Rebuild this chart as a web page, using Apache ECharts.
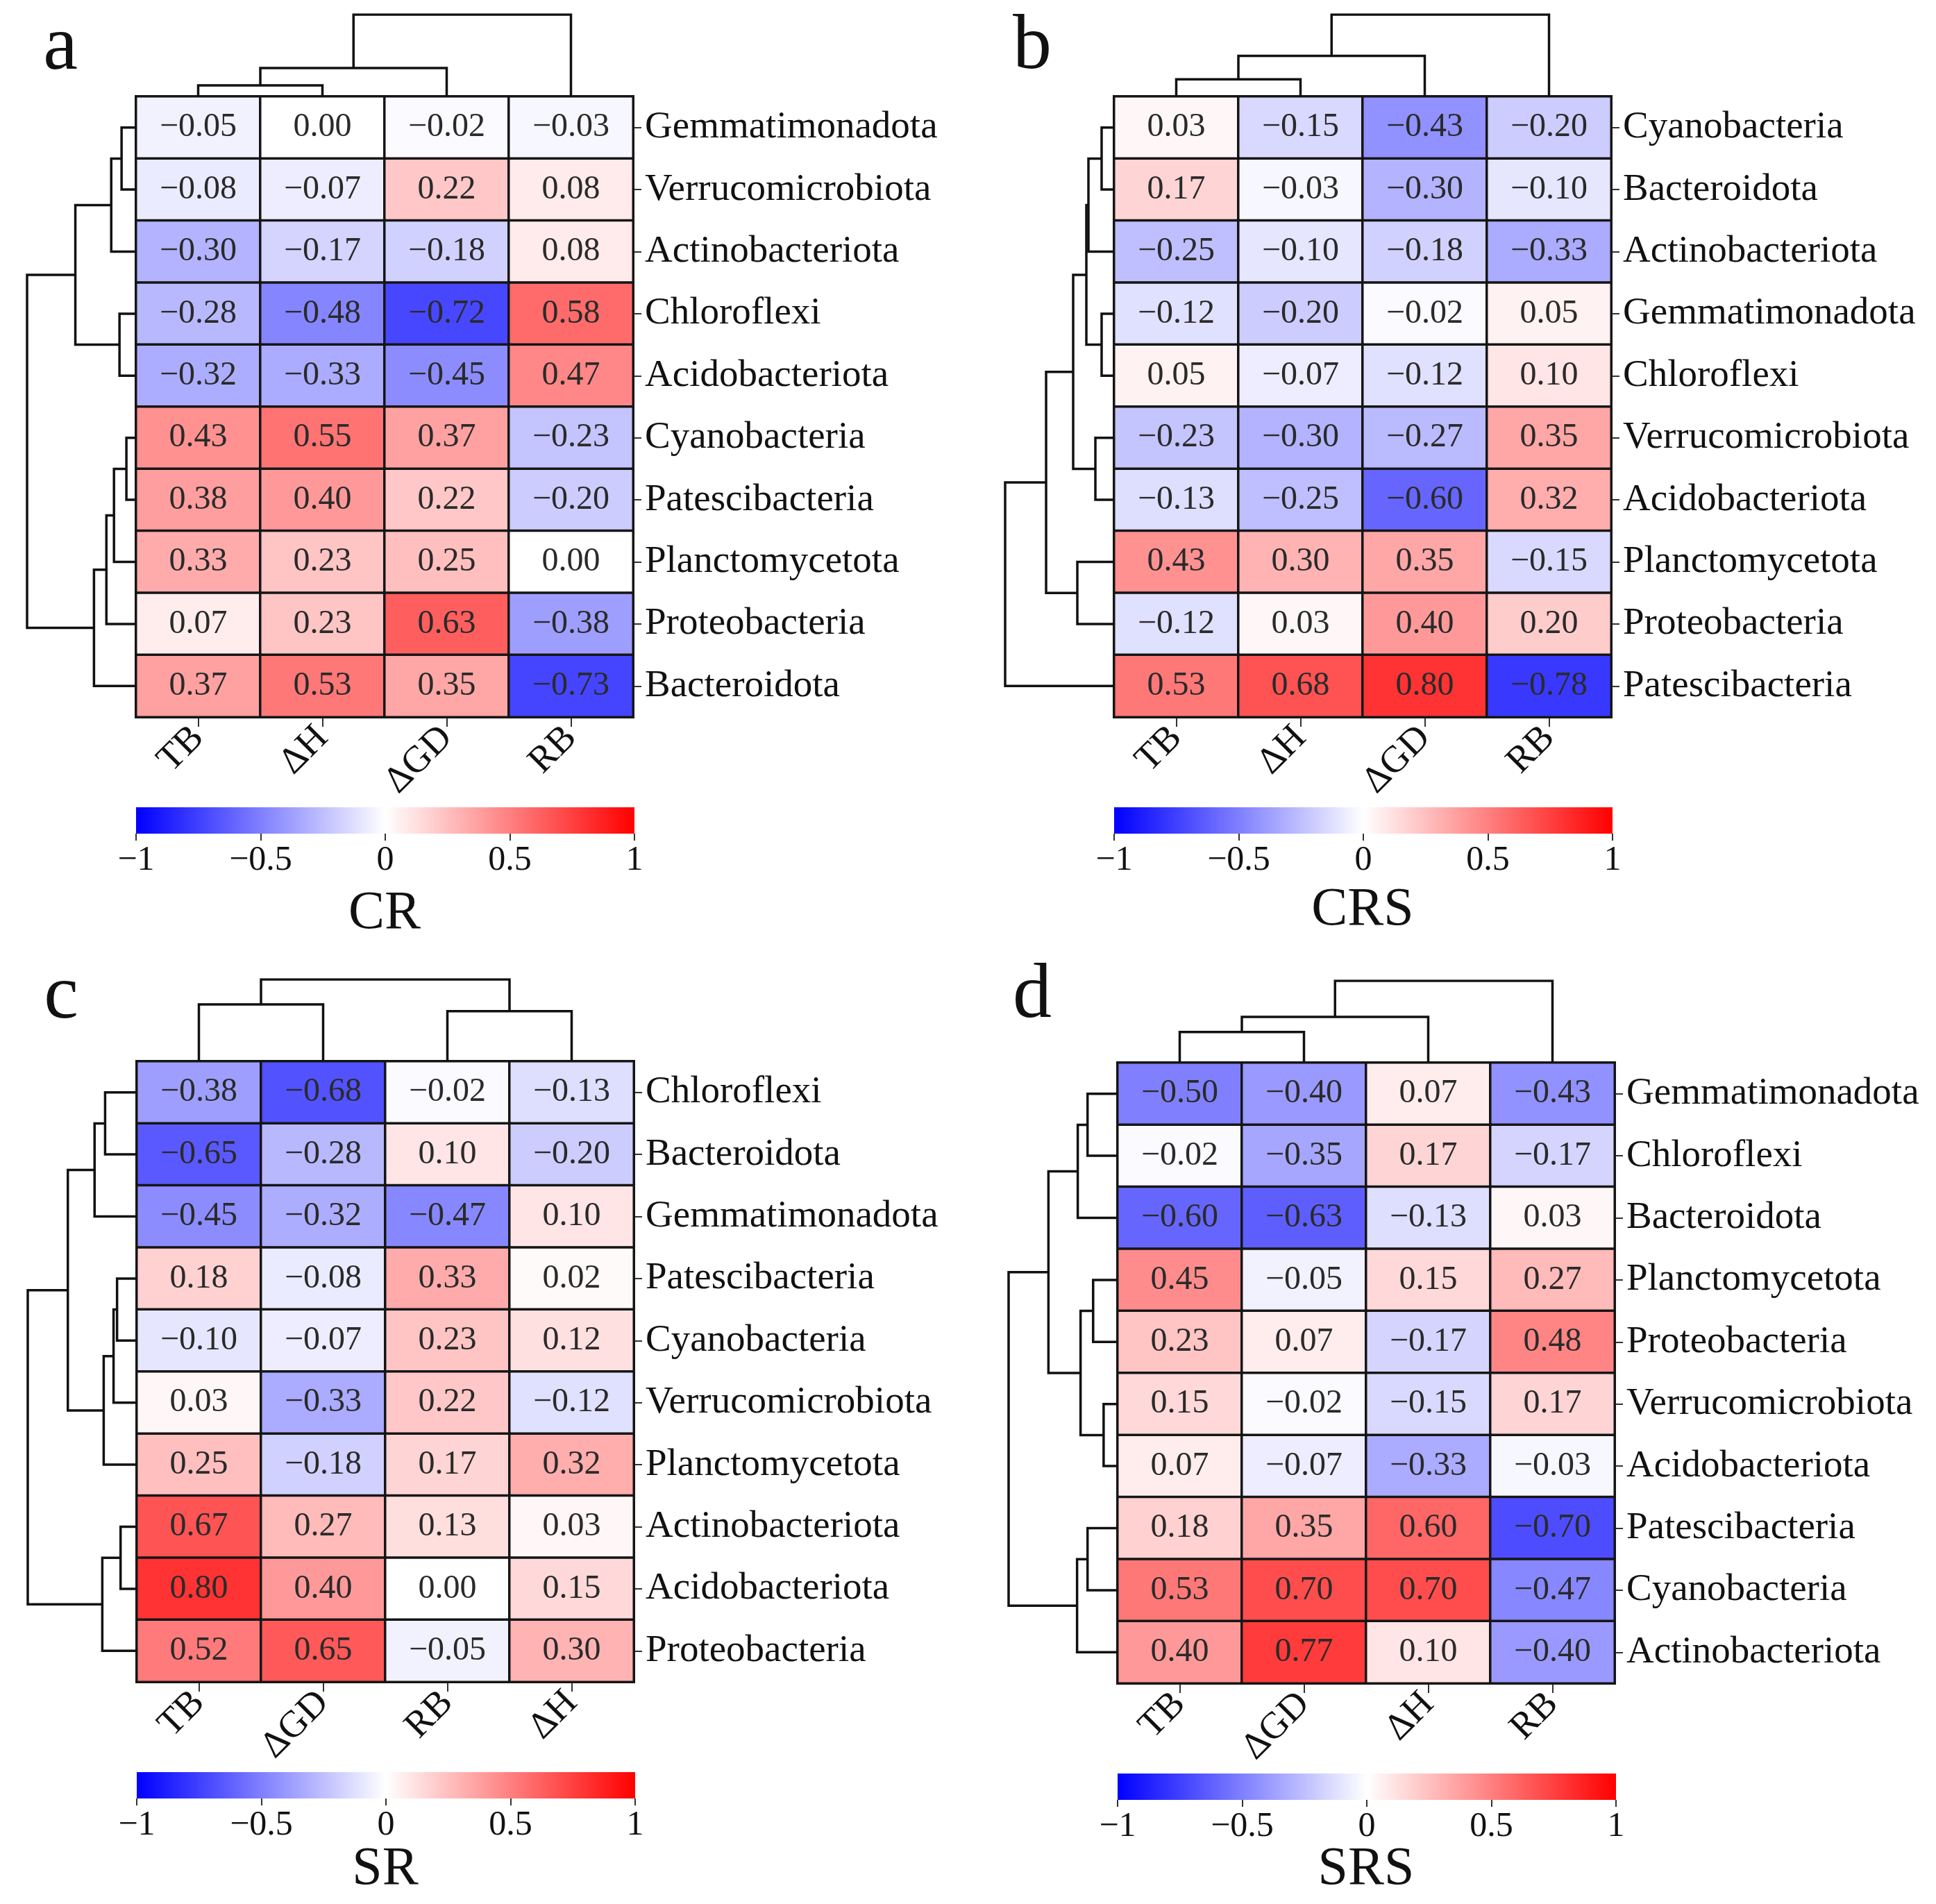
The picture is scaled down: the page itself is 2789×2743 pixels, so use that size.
<!DOCTYPE html>
<html>
<head>
<meta charset="utf-8">
<script src="https://cdn.jsdelivr.net/npm/echarts@6/dist/echarts.min.js"></script>
<style>
  html, body { margin: 0; background: #fff; }
  #chart { width: 2789px; height: 2743px; }
</style>
</head>
<body>
<div id="chart"></div>
<script>
// ---------- data: clustered correlation heatmaps ----------

// a  CR
var colsA = ['TB', 'ΔH', 'ΔGD', 'RB'];
var rowsA = ['Gemmatimonadota', 'Verrucomicrobiota', 'Actinobacteriota', 'Chloroflexi', 'Acidobacteriota',
             'Cyanobacteria', 'Patescibacteria', 'Planctomycetota', 'Proteobacteria', 'Bacteroidota'];
var valsA = [
    [-0.05, 0.00, -0.02, -0.03],
    [-0.08, -0.07, 0.22, 0.08],
    [-0.30, -0.17, -0.18, 0.08],
    [-0.28, -0.48, -0.72, 0.58],
    [-0.32, -0.33, -0.45, 0.47],
    [0.43, 0.55, 0.37, -0.23],
    [0.38, 0.40, 0.22, -0.20],
    [0.33, 0.23, 0.25, 0.00],
    [0.07, 0.23, 0.63, -0.38],
    [0.37, 0.53, 0.35, -0.73]
];
// linkage: [childA, childB, distance], ids >= n are earlier merges
var rowLinkA = [[0, 1, 0.21], [10, 2, 0.36], [3, 4, 0.24], [11, 12, 0.88], [5, 6, 0.14],
                [14, 7, 0.32], [15, 8, 0.43], [16, 9, 0.61], [13, 17, 1.58]];
var colLinkA = [[0, 1, 0.16], [4, 2, 0.41], [5, 3, 1.18]];

// b  CRS
var colsB = ['TB', 'ΔH', 'ΔGD', 'RB'];
var rowsB = ['Cyanobacteria', 'Bacteroidota', 'Actinobacteriota', 'Gemmatimonadota', 'Chloroflexi',
             'Verrucomicrobiota', 'Acidobacteriota', 'Planctomycetota', 'Proteobacteria', 'Patescibacteria'];
var valsB = [
    [0.03, -0.15, -0.43, -0.20],
    [0.17, -0.03, -0.30, -0.10],
    [-0.25, -0.10, -0.18, -0.33],
    [-0.12, -0.20, -0.02, 0.05],
    [0.05, -0.07, -0.12, 0.10],
    [-0.23, -0.30, -0.27, 0.35],
    [-0.13, -0.25, -0.60, 0.32],
    [0.43, 0.30, 0.35, -0.15],
    [-0.12, 0.03, 0.40, 0.20],
    [0.53, 0.68, 0.80, -0.78]
];
var rowLinkB = [[0, 1, 0.18], [10, 2, 0.37], [3, 4, 0.18], [11, 12, 0.40], [5, 6, 0.27],
                [13, 14, 0.59], [7, 8, 0.53], [15, 16, 0.98], [17, 9, 1.57]];
var colLinkB = [[0, 1, 0.25], [4, 2, 0.59], [5, 3, 1.19]];

// c  SR
var colsC = ['TB', 'ΔGD', 'RB', 'ΔH'];
var rowsC = ['Chloroflexi', 'Bacteroidota', 'Gemmatimonadota', 'Patescibacteria', 'Cyanobacteria',
             'Verrucomicrobiota', 'Planctomycetota', 'Actinobacteriota', 'Acidobacteriota', 'Proteobacteria'];
var valsC = [
    [-0.38, -0.68, -0.02, -0.13],
    [-0.65, -0.28, 0.10, -0.20],
    [-0.45, -0.32, -0.47, 0.10],
    [0.18, -0.08, 0.33, 0.02],
    [-0.10, -0.07, 0.23, 0.12],
    [0.03, -0.33, 0.22, -0.12],
    [0.25, -0.18, 0.17, 0.32],
    [0.67, 0.27, 0.13, 0.03],
    [0.80, 0.40, 0.00, 0.15],
    [0.52, 0.65, -0.05, 0.30]
];
var rowLinkC = [[0, 1, 0.45], [10, 2, 0.60], [3, 4, 0.28], [12, 5, 0.33], [13, 6, 0.47],
                [11, 14, 0.98], [7, 8, 0.23], [16, 9, 0.49], [15, 17, 1.55]];
var colLinkC = [[0, 1, 0.84], [2, 3, 0.74], [4, 5, 1.21]];

// d  SRS
var colsD = ['TB', 'ΔGD', 'ΔH', 'RB'];
var rowsD = ['Gemmatimonadota', 'Chloroflexi', 'Bacteroidota', 'Planctomycetota', 'Proteobacteria',
             'Verrucomicrobiota', 'Acidobacteriota', 'Patescibacteria', 'Cyanobacteria', 'Actinobacteriota'];
var valsD = [
    [-0.50, -0.40, 0.07, -0.43],
    [-0.02, -0.35, 0.17, -0.17],
    [-0.60, -0.63, -0.13, 0.03],
    [0.45, -0.05, 0.15, 0.27],
    [0.23, 0.07, -0.17, 0.48],
    [0.15, -0.02, -0.15, 0.17],
    [0.07, -0.07, -0.33, -0.03],
    [0.18, 0.35, 0.60, -0.70],
    [0.53, 0.70, 0.70, -0.47],
    [0.40, 0.77, 0.10, -0.40]
];
var rowLinkD = [[0, 1, 0.43], [10, 2, 0.57], [3, 4, 0.35], [5, 6, 0.20], [12, 13, 0.53],
                [11, 14, 0.99], [7, 8, 0.43], [16, 9, 0.58], [15, 17, 1.56]];
var colLinkD = [[0, 1, 0.45], [4, 2, 0.67], [5, 3, 1.20]];

var panelLetters = ['a', 'b', 'c', 'd'];
var panelTitles = ['CR', 'CRS', 'SR', 'SRS'];
var cbarTicks = [-1, -0.5, 0, 0.5, 1];

// ---------- layout ----------
var FONT = '"Liberation Serif", "Times New Roman", serif';
var layout = [
    { left: 196, top: 139, width: 716, lx: 87, ly: 70, ty: 1317 },
    { left: 1605, top: 139, width: 716, lx: 1487, ly: 69, ty: 1312 },
    { left: 197, top: 1529, width: 716, lx: 88, ly: 1437, ty: 2694 },
    { left: 1610, top: 1531, width: 716, lx: 1487, ly: 1436, ty: 2694 }
];
var cellH = 89.4;
var rowDendW = 157;
var colDendH = 118;

var panels = [
    { cols: colsA, rows: rowsA, vals: valsA, rowLink: rowLinkA, colLink: colLinkA },
    { cols: colsB, rows: rowsB, vals: valsB, rowLink: rowLinkB, colLink: colLinkB },
    { cols: colsC, rows: rowsC, vals: valsC, rowLink: rowLinkC, colLink: colLinkC },
    { cols: colsD, rows: rowsD, vals: valsD, rowLink: rowLinkD, colLink: colLinkD }
];

function fmt(v) {
    var s = Number(v).toFixed(2);
    return s.charAt(0) === '-' ? '\u2212' + s.slice(1) : s;
}

// U-shaped segments of a dendrogram, leaves at 0..n-1
function dendroLines(link, n, swap) {
    var pos = [], hgt = [], out = [];
    for (var i = 0; i < n; i++) { pos[i] = i; hgt[i] = 0; }
    link.forEach(function (m, k) {
        var a = m[0], b = m[1], h = m[2];
        var pts = [[pos[a], hgt[a]], [pos[a], h], [pos[b], h], [pos[b], hgt[b]]];
        pos[n + k] = (pos[a] + pos[b]) / 2;
        hgt[n + k] = h;
        out.push({ coords: swap ? pts.map(function (p) { return [p[1], p[0]]; }) : pts });
    });
    return out;
}

var grids = [], xAxes = [], yAxes = [], series = [], graphics = [], heatIdx = [];

panels.forEach(function (p, pi) {
    var L = layout[pi];
    var H = cellH * p.rows.length;
    var g = pi * 4;

    // heatmap
    grids.push({ left: L.left, top: L.top, width: L.width, height: H });
    xAxes.push({
        type: 'category', gridIndex: g, data: p.cols, position: 'bottom',
        axisLine: { show: false },
        axisTick: { show: true, alignWithLabel: true, length: 14, lineStyle: { color: '#333', width: 2 } },
        axisLabel: { rotate: 45, fontSize: 54, fontFamily: FONT, color: '#111', margin: 22 },
        splitLine: { show: false }
    });
    yAxes.push({
        type: 'category', gridIndex: g, data: p.rows, inverse: true, position: 'right',
        axisLine: { show: false },
        axisTick: { show: true, alignWithLabel: true, length: 12, lineStyle: { color: '#333', width: 2 } },
        axisLabel: { fontSize: 55, fontFamily: FONT, color: '#111', margin: 17 },
        splitLine: { show: false }
    });
    var cells = [];
    p.vals.forEach(function (row, r) {
        row.forEach(function (v, c) { cells.push([c, r, v]); });
    });
    heatIdx.push(series.length);
    series.push({
        type: 'heatmap', xAxisIndex: g, yAxisIndex: g, data: cells,
        label: {
            show: true, fontSize: 48, fontFamily: FONT, color: '#2a2a2a',
            formatter: function (q) { return fmt(q.value[2]); }
        },
        itemStyle: { borderColor: '#151515', borderWidth: 3.5 },
        emphasis: { disabled: true }
    });

    // row dendrogram (left)
    var rootR = p.rowLink[p.rowLink.length - 1][2];
    grids.push({ left: L.left - rowDendW, top: L.top, width: rowDendW, height: H });
    xAxes.push({ type: 'value', gridIndex: g + 1, min: 0, max: rootR, inverse: true, show: false });
    yAxes.push({ type: 'value', gridIndex: g + 1, min: -0.5, max: p.rows.length - 0.5, inverse: true, show: false });
    series.push({
        type: 'lines', coordinateSystem: 'cartesian2d', xAxisIndex: g + 1, yAxisIndex: g + 1,
        polyline: true, silent: true,
        data: dendroLines(p.rowLink, p.rows.length, true),
        lineStyle: { color: '#111', width: 3.5, opacity: 1 }
    });

    // column dendrogram (top)
    var rootC = p.colLink[p.colLink.length - 1][2];
    grids.push({ left: L.left, top: L.top - colDendH, width: L.width, height: colDendH });
    xAxes.push({ type: 'value', gridIndex: g + 2, min: -0.5, max: p.cols.length - 0.5, show: false });
    yAxes.push({ type: 'value', gridIndex: g + 2, min: 0, max: rootC, show: false });
    series.push({
        type: 'lines', coordinateSystem: 'cartesian2d', xAxisIndex: g + 2, yAxisIndex: g + 2,
        polyline: true, silent: true,
        data: dendroLines(p.colLink, p.cols.length, false),
        lineStyle: { color: '#111', width: 3.5, opacity: 1 }
    });

    // colour bar
    grids.push({ left: L.left, top: L.top + H + 130, width: L.width + 2, height: 38 });
    xAxes.push({
        type: 'value', gridIndex: g + 3, min: cbarTicks[0], max: cbarTicks[cbarTicks.length - 1],
        interval: 0.5,
        axisLine: { show: false },
        axisTick: { show: true, length: 10, lineStyle: { color: '#333', width: 2 } },
        axisLabel: {
            fontSize: 50, fontFamily: FONT, color: '#111', margin: 14,
            showMinLabel: true, showMaxLabel: true,
            formatter: function (v) { return String(v).replace('-', '\u2212'); }
        },
        splitLine: { show: false }
    });
    yAxes.push({ type: 'value', gridIndex: g + 3, min: 0, max: 1, show: false });
    series.push({
        type: 'custom', xAxisIndex: g + 3, yAxisIndex: g + 3, silent: true,
        data: [[cbarTicks[0], 0]],
        renderItem: function (params, api) {
            var p0 = api.coord([-1, 1]);
            var p1 = api.coord([1, 0]);
            return {
                type: 'rect',
                shape: { x: p0[0], y: p0[1], width: p1[0] - p0[0], height: p1[1] - p0[1] },
                style: {
                    fill: new echarts.graphic.LinearGradient(0, 0, 1, 0, [
                        { offset: 0, color: '#0000ff' },
                        { offset: 0.5, color: '#ffffff' },
                        { offset: 1, color: '#ff0000' }
                    ])
                }
            };
        }
    });

    // colour bar title and panel letter
    graphics.push({
        type: 'text', x: L.left + L.width / 2, y: L.ty,
        style: { text: panelTitles[pi], font: '78px ' + FONT, fill: '#111',
                 align: 'center', verticalAlign: 'middle', textAlign: 'center', textVerticalAlign: 'middle' }
    });
    graphics.push({
        type: 'text', x: L.lx, y: L.ly,
        style: { text: panelLetters[pi], font: '112px ' + FONT, fill: '#111',
                 align: 'center', verticalAlign: 'middle', textAlign: 'center', textVerticalAlign: 'middle' }
    });
});

var chart = echarts.init(document.getElementById('chart'));
chart.setOption({
    backgroundColor: '#fff',
    animation: false,
    grid: grids,
    xAxis: xAxes,
    yAxis: yAxes,
    visualMap: {
        type: 'continuous', show: false, min: -1, max: 1, seriesIndex: heatIdx,
        inRange: { color: ['#0000ff', '#ffffff', '#ff0000'] }
    },
    graphic: graphics,
    series: series
});
</script>
</body>
</html>
